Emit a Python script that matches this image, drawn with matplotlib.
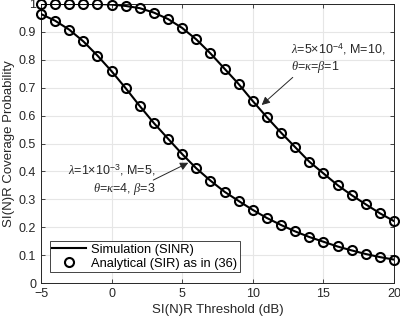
import matplotlib
matplotlib.use("Agg")
import matplotlib.pyplot as plt
from matplotlib.lines import Line2D

plt.rcParams['font.family'] = ['Liberation Sans', 'DejaVu Sans']
plt.rcParams['mathtext.fontset'] = 'custom'
plt.rcParams['mathtext.rm'] = 'Liberation Sans'
plt.rcParams['mathtext.it'] = 'Liberation Serif:italic'

threshold_db = list(range(-5, 21))
cov_case1 = [1.0, 1.0, 1.0, 1.0, 1.0, 0.998, 0.993, 0.985, 0.969, 0.946, 0.914, 0.873,
             0.823, 0.768, 0.713, 0.652, 0.594, 0.539, 0.487, 0.435, 0.393, 0.351,
             0.315, 0.282, 0.250, 0.222]
cov_case2 = [0.964, 0.940, 0.908, 0.866, 0.815, 0.759, 0.698, 0.634, 0.573, 0.517,
             0.462, 0.411, 0.367, 0.327, 0.294, 0.262, 0.233, 0.208, 0.185, 0.165,
             0.148, 0.131, 0.117, 0.104, 0.093, 0.084]
xticks = [-5, 0, 5, 10, 15, 20]
yticks = [0, 0.1, 0.2, 0.3, 0.4, 0.5, 0.6, 0.7, 0.8, 0.9, 1]
ytick_labels = ['0', '0.1', '0.2', '0.3', '0.4', '0.5', '0.6', '0.7', '0.8', '0.9', '1']

fig = plt.figure(figsize=(4.0, 3.22), dpi=100)
ax = fig.add_axes([0.1025, 0.121, 0.8825, 0.8666])

axc = '#262626'
ax.plot(threshold_db, cov_case1, '-', color='black', lw=1.5, zorder=3)
ax.plot(threshold_db, cov_case2, '-', color='black', lw=1.5, zorder=3)
ax.plot(threshold_db, cov_case1, 'o', mfc='none', mec='black', ms=6.5, mew=1.5,
        zorder=4, clip_on=False)
ax.plot(threshold_db, cov_case2, 'o', mfc='none', mec='black', ms=6.5, mew=1.5,
        zorder=4, clip_on=False)

ax.set_xlim(-5, 20)
ax.set_ylim(0, 1)
ax.set_xticks(xticks)
ax.set_yticks(yticks)
ax.set_yticklabels(ytick_labels)
ax.grid(True, color='#e6e6e6', lw=0.8)
ax.set_axisbelow(True)
ax.tick_params(direction='in', length=3, width=0.6, colors=axc, labelsize=9,
               top=True, right=True, labeltop=False, labelright=False)
for s in ax.spines.values():
    s.set_color(axc)
    s.set_linewidth(0.7)

ax.set_xlabel('SI(N)R Threshold (dB)', fontsize=9.5, color=axc, labelpad=3)
ax.set_ylabel('SI(N)R Coverage Probability', fontsize=9.5, color=axc, labelpad=3)

arrow_style = dict(arrowstyle='-|>', color=axc, lw=0.7, mutation_scale=12,
                   shrinkA=0, shrinkB=0)

ax.text(12.7, 0.805, '$\\lambda$=5$\\times$10$^{-4}$, M=10,\n$\\theta$=$\\kappa$=$\\beta$=1',
        ha='left', va='center', multialignment='left', fontsize=9, color=axc, zorder=6)
ax.annotate('', xy=(10.63, 0.638), xytext=(12.83, 0.737),
            arrowprops=arrow_style, zorder=6)

ax.text(3.1, 0.37, '$\\lambda$=1$\\times$10$^{-3}$, M=5,\n$\\theta$=$\\kappa$=4, $\\beta$=3',
        ha='right', va='center', multialignment='right', fontsize=9, color=axc, zorder=6)
ax.annotate('', xy=(5.43, 0.431), xytext=(2.95, 0.369),
            arrowprops=arrow_style, zorder=6)

handles = [Line2D([], [], color='black', lw=1.5),
           Line2D([], [], ls='none', marker='o', mfc='none', mec='black', ms=6.5, mew=1.5)]
leg = ax.legend(handles, ['Simulation (SINR)', 'Analytical (SIR) as in (36)'],
                loc='lower left', bbox_to_anchor=(0.025, 0.038), fontsize=9.3,
                frameon=True, fancybox=False, edgecolor=axc, framealpha=1,
                handlelength=2.6, handletextpad=0.4, borderpad=0.2, labelspacing=0.15,
                borderaxespad=0)
leg.get_frame().set_linewidth(0.6)

fig.savefig('out.png', dpi=100)
